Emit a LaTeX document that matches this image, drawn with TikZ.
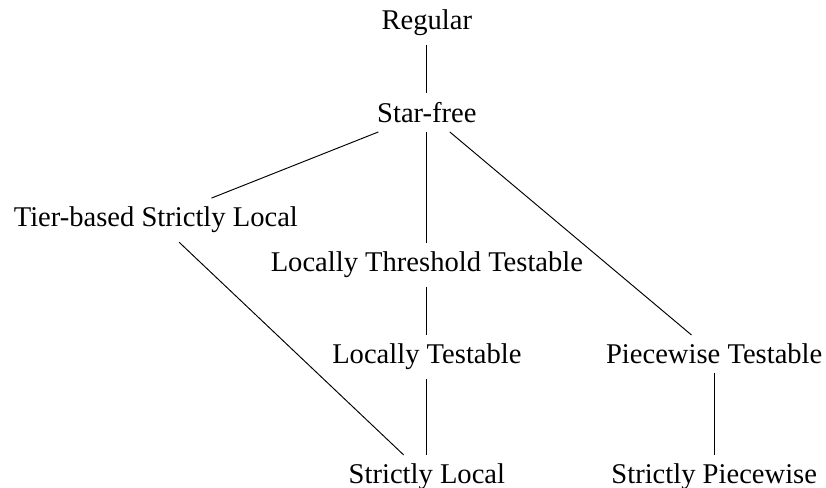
\documentclass[tikz,border=0pt]{standalone}
\usepackage{fontspec}
\setmainfont{Liberation Serif}
\usepackage{tikz}

\begin{document}
\begin{tikzpicture}[
    cls/.style={anchor=base, inner sep=0.36em, font=\fontsize{12pt}{14pt}\selectfont}
]
    \useasboundingbox (0,0) rectangle (12.19,7.20);
    \node[cls] (regular) at (6.30,6.76) {Regular};
    \node[cls] (starfree) at (6.30,5.39) {Star-free};
    \node[cls] (tsl) at (2.30,3.85) {Tier-based Strictly Local};
    \node[cls] (ltt) at (6.30,3.19) {Locally Threshold Testable};
    \node[cls] (lt) at (6.30,1.83) {Locally Testable};
    \node[cls] (pt) at (10.54,1.83) {Piecewise Testable};
    \node[cls] (sl) at (6.30,0.06) {Strictly Local};
    \node[cls] (sp) at (10.54,0.06) {Strictly Piecewise};

    \draw (regular) -- (starfree);
    \draw (starfree) -- (tsl);
    \draw (starfree) -- (ltt);
    \draw (starfree) -- (pt);
    \draw (tsl) -- (sl);
    \draw (ltt) -- (lt);
    \draw (lt) -- (sl);
    \draw (pt) -- (sp);
\end{tikzpicture}
\end{document}
